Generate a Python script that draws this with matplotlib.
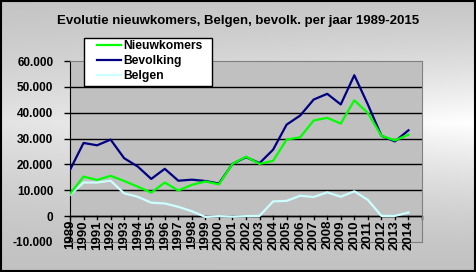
import matplotlib.pyplot as plt
import numpy as np

years = list(range(1989, 2015))
tick_years = list(range(1989, 2016))
nieuwkomers = [8600, 15300, 14000, 15600, 13600, 11400, 9100, 13000, 9900, 12100,
               13400, 12300, 20200, 23000, 20200, 21400, 29600, 30500, 37000, 38000,
               35800, 44800, 39900, 31100, 29300, 31500]
bevolking = [17900, 28300, 27400, 29600, 22400, 19200, 14400, 18300, 13700, 14100,
             13600, 12600, 20200, 22800, 20500, 25700, 35400, 38900, 45100, 47300,
             43200, 54500, 43200, 31100, 28900, 33200]
belgen = [8200, 13000, 13000, 13700, 8800, 7500, 5200, 4900, 3600, 1900,
          -300, 0, -200, 0, 100, 5700, 5900, 7900, 7400, 9200,
          7500, 9600, 6300, 100, 100, 1400]
y_ticks = [-10000, 0, 10000, 20000, 30000, 40000, 50000, 60000]
y_labels = ['-10.000', '0', '10.000', '20.000', '30.000', '40.000', '50.000', '60.000']

plt.rcParams['font.family'] = ['Liberation Sans', 'DejaVu Sans']

W, H = 476, 272
fig = plt.figure(figsize=(W / 100, H / 100), dpi=100)

# background gradient
bg = fig.add_axes([0, 0, 1, 1], zorder=-1)
gx, gy = np.meshgrid(np.linspace(0, 1, 200), np.linspace(0, 1, 200))
v = np.clip(1 - np.abs(gy - 0.45) / 0.55, 0, 1) ** 1.5
shade = 0.76 + 0.24 * v * (0.55 + 0.45 * gx)
bg.imshow(np.dstack([shade] * 3), aspect='auto', extent=[0, 1, 0, 1], origin='upper')
bg.set_xlim(0, 1)
bg.set_ylim(0, 1)
bg.axis('off')
bg.add_patch(plt.Rectangle((0.002, 0.003), 0.996, 0.994, fill=False, ec='black', lw=1.5,
                           transform=bg.transAxes))

ax = fig.add_axes([70 / W, 1 - 242 / H, 352 / W, 181 / H])
ax.set_facecolor('#c0c0c0')
for y in y_ticks[1:-1]:
    ax.axhline(y, color='black', lw=1, zorder=1)

ax.plot(years, belgen, color='#ccffff', lw=1.6, label='Belgen', zorder=3)
ax.plot(years, bevolking, color='#000080', lw=1.6, label='Bevolking', zorder=4)
ax.plot(years, nieuwkomers, color='#00ff00', lw=1.6, label='Nieuwkomers', zorder=5)

ax.set_xlim(1989, 2015)
ax.set_ylim(-10000, 60000)
ax.set_yticks(y_ticks)
ax.set_yticklabels(y_labels, fontsize=8.5, fontweight='bold')
ax.tick_params(axis='y', length=4, width=1, pad=8)
ax.set_xticks([])

for side in ['top', 'right', 'bottom']:
    ax.spines[side].set_color('#808080')
ax.spines['left'].set_color('black')

# category axis at zero
ax.axhline(0, color='black', lw=1, zorder=2)
for yr in tick_years:
    ax.plot([yr, yr], [0, -1100], color='black', lw=1, clip_on=False, zorder=2)
for yr in years:
    ax.text(yr, -1500, str(yr), rotation=90, ha='center', va='top',
            fontsize=9.5, fontweight='bold', zorder=6)

# legend box
fig.add_artist(plt.Rectangle((84 / W, 1 - 86 / H), 128 / W, 48 / H, fc='white',
                             ec='black', lw=1, transform=fig.transFigure, zorder=4))
h, l = ax.get_legend_handles_labels()
order = [2, 1, 0]
leg = fig.legend([h[i] for i in order], [l[i] for i in order],
                 loc='upper left', bbox_to_anchor=(95 / W, 1 - 38 / H),
                 frameon=False, prop={'size': 8.7, 'weight': 'bold'},
                 handlelength=1.95, handletextpad=0.15, labelspacing=0.25,
                 borderpad=0.2, borderaxespad=0)
leg.set_zorder(5)

fig.text(238 / W, 1 - 21 / H, 'Evolutie nieuwkomers, Belgen, bevolk. per jaar 1989-2015',
         ha='center', va='center', fontsize=9.5, fontweight='bold')

fig.savefig('out.png', dpi=100)
